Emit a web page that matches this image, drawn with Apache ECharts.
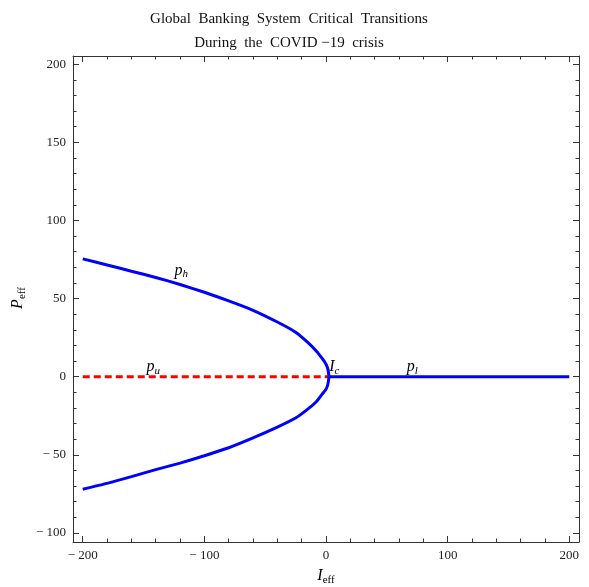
<!DOCTYPE html>
<html>
<head>
<meta charset="utf-8">
<script src="https://cdn.jsdelivr.net/npm/echarts@6/dist/echarts.min.js"></script>
<style>
  html, body { margin: 0; padding: 0; background: #fff; }
  #chart { width: 589px; height: 587px; }
</style>
</head>
<body>
<div id="chart"></div>
<script>
// curve values
const upperBranch = [
  [-200, 75.4], [-180, 71.5], [-160, 67.5], [-140, 63.5], [-120, 59.0], [-100, 54.0],
  [-80, 48.5], [-60, 42.5], [-40, 35.0], [-25, 28.5], [-15, 22.0], [-8, 16.5],
  [-3, 11.5], [0, 8.0], [1.5, 5.0], [2.5, 0]
];
const lowerBranch = [
  [2.5, 0], [1.5, -5.0], [0, -8.0], [-3, -11.0], [-8, -16.0], [-15, -20.8],
  [-25, -26.5], [-40, -32.3], [-60, -39.2], [-80, -45.5], [-100, -50.6], [-120, -55.3],
  [-140, -59.5], [-160, -64.0], [-180, -68.3], [-200, -72.0]
];
const unstableBranch = [[-200, 0], [2, 0]];
const lowBranch = [[2.5, 0], [60, 0], [120, 0], [200, 0]];

// tick positions
const xMajorTicks = [-200, -100, 0, 100, 200];
const xMinorTicks = [-180, -160, -140, -120, -80, -60, -40, -20, 20, 40, 60, 80, 120, 140, 160, 180];
const yMajorTicks = [-100, -50, 0, 50, 100, 150, 200];
const yMinorTicks = [-90, -80, -70, -60, -40, -30, -20, -10, 10, 20, 30, 40, 60, 70, 80, 90,
  110, 120, 130, 140, 160, 170, 180, 190];

const serif = "'Liberation Serif', 'DejaVu Serif', serif";

function fmt(v) {
  return v < 0 ? '\u2212 ' + Math.abs(v) : String(v);
}

function frameAxis(pos, min, max, ticks, len, showLabel, showLine) {
  return {
    type: 'value',
    position: pos,
    min: min,
    max: max,
    axisLine: { show: showLine, onZero: false, lineStyle: { color: '#333', width: 1 } },
    axisTick: { show: true, inside: true, length: len, customValues: ticks, lineStyle: { color: '#333' } },
    axisLabel: {
      show: showLabel, customValues: ticks, formatter: fmt,
      color: '#222', fontFamily: serif, fontSize: 13, margin: 7
    },
    splitLine: { show: false }
  };
}

const xMin = -208, xMax = 208, yMin = -105.8, yMax = 205.2;

const chart = echarts.init(document.getElementById('chart'));
chart.setOption({
  animation: false,
  title: {
    text: 'Global  Banking  System  Critical  Transitions\nDuring  the  COVID \u221219  crisis',
    left: 284,
    top: 2,
    textAlign: 'center',
    textStyle: { fontFamily: serif, fontSize: 15, fontWeight: 'normal', color: '#111', lineHeight: 24 }
  },
  grid: { left: 73, right: 10, top: 56, bottom: 45 },
  xAxis: [
    frameAxis('bottom', xMin, xMax, xMajorTicks, 6, true, true),
    frameAxis('top', xMin, xMax, xMajorTicks, 6, false, true),
    frameAxis('bottom', xMin, xMax, xMinorTicks, 3.5, false, false),
    frameAxis('top', xMin, xMax, xMinorTicks, 3.5, false, false)
  ],
  yAxis: [
    frameAxis('left', yMin, yMax, yMajorTicks, 6, true, true),
    frameAxis('right', yMin, yMax, yMajorTicks, 6, false, true),
    frameAxis('left', yMin, yMax, yMinorTicks, 3.5, false, false),
    frameAxis('right', yMin, yMax, yMinorTicks, 3.5, false, false)
  ],
  series: [
    {
      type: 'line', data: unstableBranch, showSymbol: false, z: 3,
      lineStyle: { color: '#ff0000', width: 3, type: [7, 4] }
    },
    {
      type: 'line', data: upperBranch, showSymbol: false, smooth: 0.2, z: 4,
      lineStyle: { color: '#0000ff', width: 3 }
    },
    {
      type: 'line', data: lowerBranch, showSymbol: false, smooth: 0.2, z: 4,
      lineStyle: { color: '#0000ff', width: 3 }
    },
    {
      type: 'line', data: lowBranch, showSymbol: false, z: 4,
      lineStyle: { color: '#0000ff', width: 3 }
    }
  ]
});

// curve names, axis names
const italic = { fontFamily: serif, fontStyle: 'italic', fontSize: 16, color: '#222' };
const sub = { fontFamily: serif, fontStyle: 'italic', fontSize: 11, color: '#222', padding: [8, 0, 0, 0] };
const subUp = { fontFamily: serif, fontSize: 11, color: '#222', padding: [8, 0, 0, 0] };
const notes = [
  { at: [-119, 68], main: 'p', s: 'h' },
  { at: [-142, 6.4], main: 'p', s: 'u' },
  { at: [6.8, 6], main: 'I', s: 'c' },
  { at: [71, 6.4], main: 'p', s: 'l' }
];
const graphics = notes.map(function (n) {
  const p = chart.convertToPixel({ xAxisIndex: 0, yAxisIndex: 0 }, n.at);
  return {
    type: 'text', x: p[0], y: p[1], z: 10,
    style: {
      text: '{m|' + n.main + '}{s|' + n.s + '}',
      align: 'center', verticalAlign: 'middle',
      rich: { m: italic, s: sub }
    }
  };
});
graphics.push({
  type: 'text', x: 326, y: 576, z: 10,
  style: {
    text: '{m|I}{s|eff}', align: 'center', verticalAlign: 'middle',
    rich: { m: italic, s: subUp }
  }
});
graphics.push({
  type: 'text', x: 18, y: 298, rotation: Math.PI / 2, z: 10,
  style: {
    text: '{m|P}{s|eff}', align: 'center', verticalAlign: 'middle',
    rich: { m: italic, s: subUp }
  }
});
chart.setOption({ graphic: graphics });
</script>
</body>
</html>
